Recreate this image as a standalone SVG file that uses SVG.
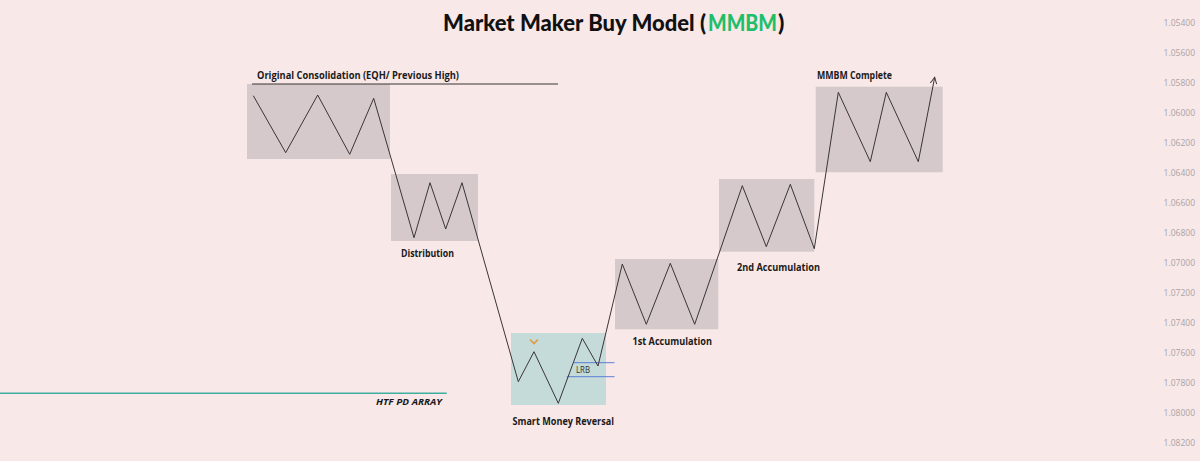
<svg xmlns="http://www.w3.org/2000/svg" width="1200" height="461" viewBox="0 0 1200 461">
<defs>
<style>
.box{fill:#d5c9cb}
.smr{fill:#c4dbda}
.lbl{font-family:"Open Sans","Noto Sans","DejaVu Sans",sans-serif;font-weight:700;font-size:10px;fill:#1a1a1a}
.ax{font-family:"Open Sans","Liberation Sans",sans-serif;font-size:8.5px;fill:#aaa3a5;text-anchor:end}
.ttl{font-family:Lato,"Open Sans",sans-serif;font-weight:900;font-size:23px}
.path{fill:none;stroke:#3a3536;stroke-width:1;stroke-linejoin:miter}
</style>
<marker id="arr" viewBox="0 0 10 10" refX="9" refY="5" markerWidth="8" markerHeight="8" orient="auto" markerUnits="userSpaceOnUse">
<path d="M1,1 L9,5 L1,9" fill="none" stroke="#3a3536" stroke-width="1.2"/>
</marker>
</defs>
<rect width="1200" height="461" fill="#f9e8e8"/>

<g id="title">
<text class="ttl" x="706" y="31" fill="#111" text-anchor="end" textLength="263" lengthAdjust="spacingAndGlyphs">Market Maker Buy Model (</text>
<text class="ttl" x="742.5" y="31" fill="#1fbf6a" text-anchor="middle" textLength="69" lengthAdjust="spacingAndGlyphs">MMBM</text>
<text class="ttl" x="778" y="31" fill="#111">)</text>
</g>

<g id="axis">
<text class="ax" x="1195" y="26">1.05400</text>
<text class="ax" x="1195" y="56">1.05600</text>
<text class="ax" x="1195" y="86">1.05800</text>
<text class="ax" x="1195" y="116">1.06000</text>
<text class="ax" x="1195" y="146">1.06200</text>
<text class="ax" x="1195" y="176">1.06400</text>
<text class="ax" x="1195" y="206">1.06600</text>
<text class="ax" x="1195" y="236">1.06800</text>
<text class="ax" x="1195" y="266">1.07000</text>
<text class="ax" x="1195" y="296">1.07200</text>
<text class="ax" x="1195" y="326">1.07400</text>
<text class="ax" x="1195" y="356">1.07600</text>
<text class="ax" x="1195" y="386">1.07800</text>
<text class="ax" x="1195" y="416">1.08000</text>
<text class="ax" x="1195" y="446">1.08200</text>
</g>

<g id="original-consolidation">
<rect class="box" x="247" y="84" width="143" height="75"/>
<line x1="252" y1="84" x2="558" y2="84" stroke="#3a3536" stroke-width="1"/>
<text class="lbl" x="257" y="78.5" textLength="202" lengthAdjust="spacingAndGlyphs">Original Consolidation (EQH/ Previous High)</text>
</g>

<g id="distribution">
<rect class="box" x="391" y="174" width="87" height="67"/>
<text class="lbl" x="401" y="257" textLength="53" lengthAdjust="spacingAndGlyphs">Distribution</text>
</g>

<g id="smart-money-reversal">
<rect class="smr" x="511" y="333" width="95" height="72"/>
<path d="M530,339.5 L534,343.5 L538,339.5" fill="none" stroke="#e39a3c" stroke-width="1.6"/>
<line x1="574" y1="362.7" x2="614.5" y2="362.7" stroke="#5c7fd6" stroke-width="1"/>
<line x1="566.7" y1="376.7" x2="614.5" y2="376.7" stroke="#5c7fd6" stroke-width="1"/>
<text x="576" y="373" font-family="'Open Sans','Noto Sans',sans-serif" font-size="9" fill="#333" textLength="14" lengthAdjust="spacingAndGlyphs">LRB</text>
<text class="lbl" x="512.5" y="425" textLength="101.5" lengthAdjust="spacingAndGlyphs">Smart Money Reversal</text>
</g>

<g id="first-accumulation">
<rect class="box" x="615" y="259" width="103.3" height="70.3"/>
<text class="lbl" x="632.5" y="345" textLength="79.5" lengthAdjust="spacingAndGlyphs">1st Accumulation</text>
</g>

<g id="second-accumulation">
<rect class="box" x="719" y="179" width="95.3" height="72.7"/>
<text class="lbl" x="737" y="271" textLength="83" lengthAdjust="spacingAndGlyphs">2nd Accumulation</text>
</g>

<g id="mmbm-complete">
<rect class="box" x="815.7" y="86.7" width="127" height="85.6"/>
<text class="lbl" x="817" y="78.5" textLength="75" lengthAdjust="spacingAndGlyphs">MMBM Complete</text>
</g>

<g id="htf-pd-array">
<line x1="0" y1="393.3" x2="446.7" y2="393.3" stroke="#3fae9f" stroke-width="1.6"/>
<text x="376" y="405" font-family="'Open Sans','Noto Sans',sans-serif" font-weight="700" font-style="italic" font-size="9.5" fill="#1a1a1a" textLength="66" lengthAdjust="spacingAndGlyphs">HTF PD ARRAY</text>
</g>

<g id="connectors">
<polyline class="path" marker-end="url(#arr)" points="253.3,95.7 285.7,152.7 317.7,95 349.7,154.3 373.7,98.3 414,237.7 430,182.7 445.7,229 462,182.7 518.3,381.7 534,351.7 558.3,403.3 582.3,338.3 598,366 622.3,264 646.3,324.3 670.3,263.3 694.7,324.3 742.3,185.7 766.3,246.7 790.3,184.3 814.3,248.7 838.3,92.3 870.3,161.7 886.3,92.3 918.3,161.7 934.7,77.3"/>
</g>
</svg>
